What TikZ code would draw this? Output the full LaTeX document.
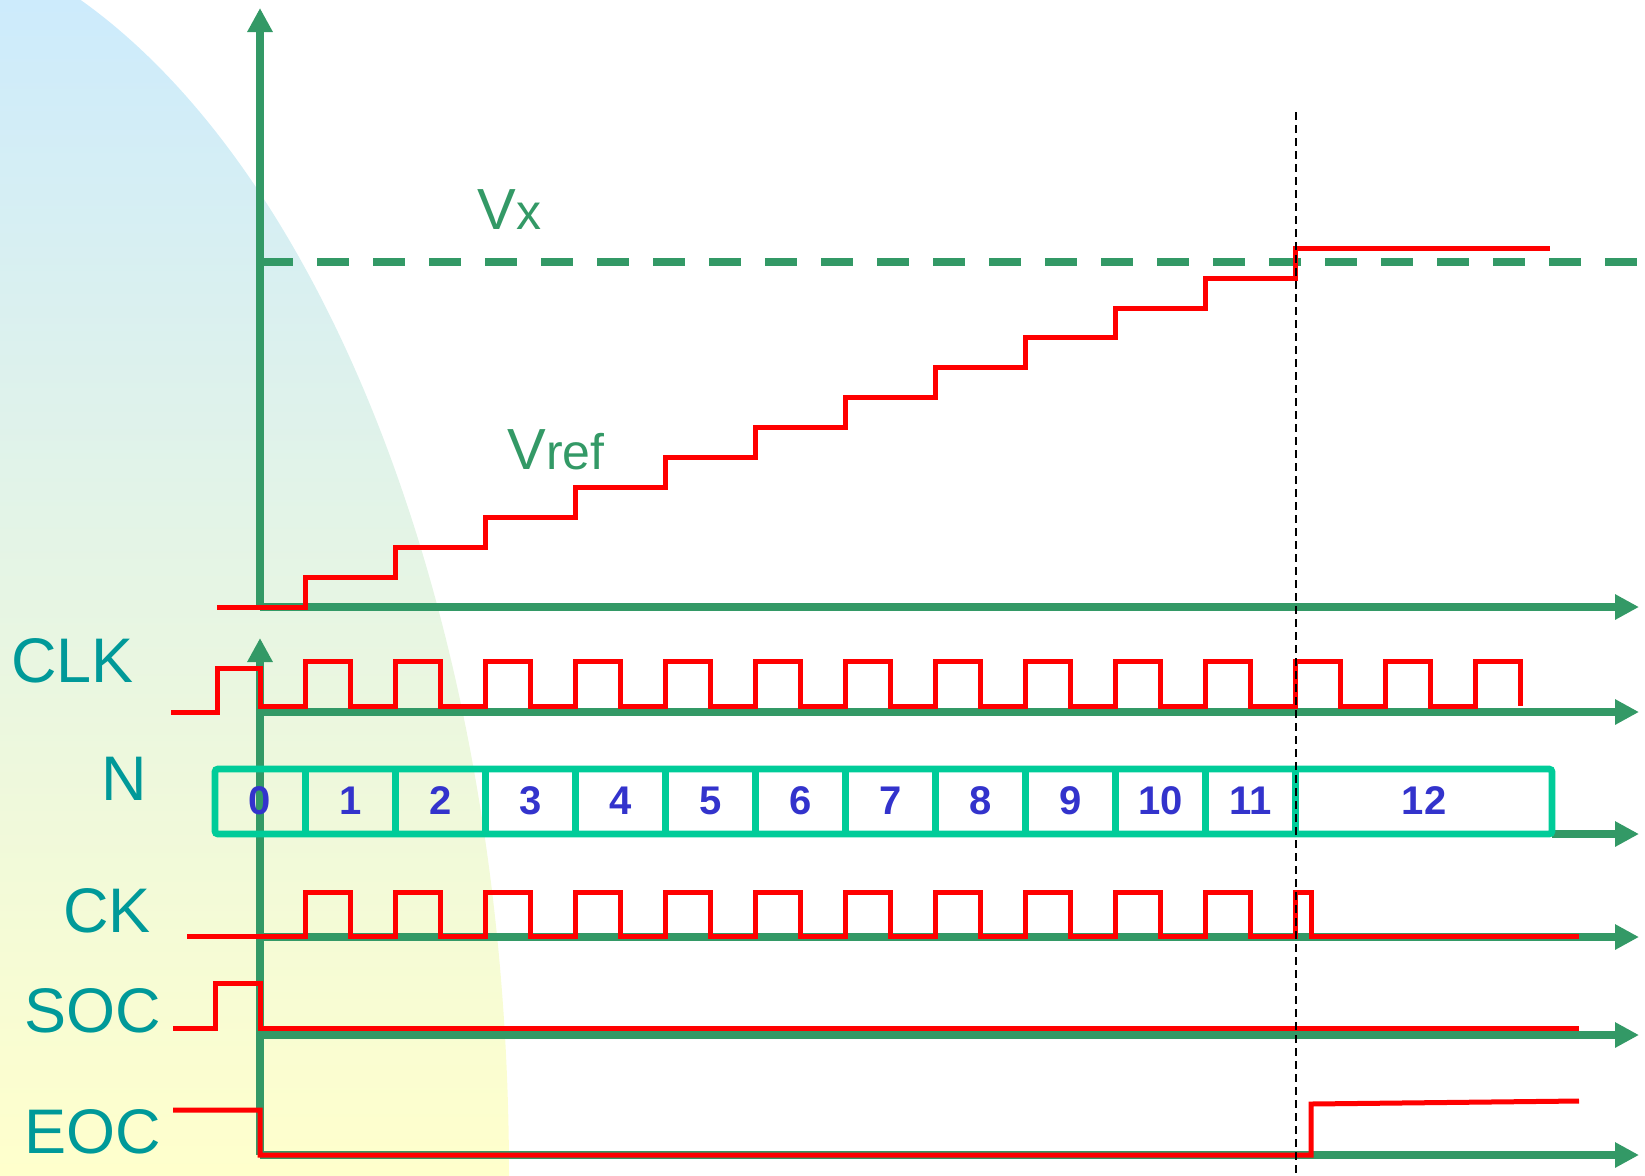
\documentclass[tikz,border=0pt]{standalone}
\usepackage{fontspec}
\setmainfont{Liberation Sans}
\usetikzlibrary{arrows.meta}
\definecolor{axisg}{HTML}{339966}
\definecolor{lbl}{HTML}{009999}
\definecolor{boxg}{HTML}{00CC99}
\definecolor{numb}{HTML}{3333CC}
\definecolor{bgtop}{HTML}{CDEBFC}
\definecolor{bgbot}{HTML}{FFFFCC}
\begin{document}
\begin{tikzpicture}[x=0.5pt,y=-0.5pt,
  axis/.style={draw=axisg,line width=4pt,-{Triangle[length=12pt,width=12pt]}},
  sig/.style={draw=red,line width=2.5pt},
  lab/.style={text=lbl,font=\fontsize{31.5}{33}\selectfont,anchor=base west,inner sep=0pt},
  vlab/.style={text=axisg,font=\fontsize{29}{30}\selectfont,anchor=base west,inner sep=0pt},
  num/.style={text=numb,font=\fontsize{20}{22}\selectfont\bfseries,inner sep=0pt},
  cell/.style={draw=boxg,line width=3.4pt}
]
\useasboundingbox (0,0) rectangle (1645,1175);
% background
\begin{scope}
  \clip (0,0) rectangle (1645,1175);
  \clip (-150,1175) ellipse [x radius=659, y radius=1254];
  \shade[top color=bgtop,bottom color=bgbot] (0,0) rectangle (600,1175);
\end{scope}
% axis coordinates
\coordinate (o1) at (260,607);
\coordinate (ytop) at (260,8);
\coordinate (x1) at (1639,607);
\coordinate (o2) at (260,1155);
\coordinate (ytop2) at (260,638);
\coordinate (clk0) at (260,712);  \coordinate (clk1) at (1639,712);
\coordinate (n0) at (1552,834);   \coordinate (n1) at (1639,834);
\coordinate (ck0) at (260,937);   \coordinate (ck1) at (1639,937);
\coordinate (soc0) at (260,1035); \coordinate (soc1) at (1639,1035);
\coordinate (eoc1) at (1639,1155);
\coordinate (vx0) at (261,262);   \coordinate (vx1) at (1637,262);
\coordinate (dl0) at (1296,112);  \coordinate (dl1) at (1296,1175);
% axes
\draw[axis] (o1) -- (ytop);
\draw[axis] (o1) -- (x1);
\draw[axis] (o2) -- (ytop2);
\draw[axis] (clk0) -- (clk1);
\draw[axis] (n0) -- (n1);
\draw[axis] (ck0) -- (ck1);
\draw[axis] (soc0) -- (soc1);
\draw[axis] (o2) -- (eoc1);
% Vx dashed level
\draw[axisg,line width=4pt,dash pattern=on 16pt off 12pt] (vx0) -- (vx1);
% counter box
\draw[cell,rounded corners=1.5pt] (215,769) rectangle (1552,834);
\foreach \k in {0,...,11}
  \draw[cell] ({305.3+90*\k},769) -- ({305.3+90*\k},834);
\node[num] (c0) at (260,801) {0};
\foreach \k in {1,...,11}
  \node[num] (c\k) at ({260.3+90*\k},801) {\k};
\node[num] (c12) at (1424,801) {12};
% Vref staircase
\draw[sig] (217,607) \foreach \k in {0,...,11}{
   -- ({305.3+90*\k},{607-29.9*\k}) -- ({305.3+90*\k},{607-29.9*(\k+1)}) }
   -- (1550,{607-29.9*12});
% CLK
\draw[sig] (171,712) -- (217,712) -- (217,668) -- (260,668) -- (260,706)
  \foreach \k in {0,...,13}{
   -- ({305.3+90*\k},706) -- ({305.3+90*\k},661) -- ({350.3+90*\k},661) -- ({350.3+90*\k},706)};
% CK
\draw[sig] (187,936) \foreach \k in {0,...,10}{
   -- ({305.3+90*\k},936) -- ({305.3+90*\k},892) -- ({350.3+90*\k},892) -- ({350.3+90*\k},936)}
   -- (1295.3,936) -- (1295.3,892) -- (1311,892) -- (1311,936) -- (1579,936);
% SOC
\draw[sig] (173,1028) -- (215,1028) -- (215,983) -- (260,983) -- (260,1028) -- (1579,1028);
% EOC
\draw[sig] (173,1110) -- (260,1110) -- (260,1155) -- (1311,1155) -- (1311,1104) -- (1579,1101);
% labels
\node[lab] (clk) at (11,682) {CLK};
\node[lab] (nlab) at (101,800) {N};
\node[lab] (ck) at (63,932) {CK};
\node[lab] (soc) at (24,1032) {SOC};
\node[lab] (eoc) at (24,1153) {EOC};
\node[vlab] (vx) at (477,229) {V{\fontsize{25}{26}\selectfont x}};
\node[vlab] (vref) at (507,469) {V{\fontsize{25}{26}\selectfont ref}};
% end-of-conversion marker
\draw[black,line width=1pt,dash pattern=on 4pt off 2.5pt] (dl0) -- (dl1);
\end{tikzpicture}
\end{document}
